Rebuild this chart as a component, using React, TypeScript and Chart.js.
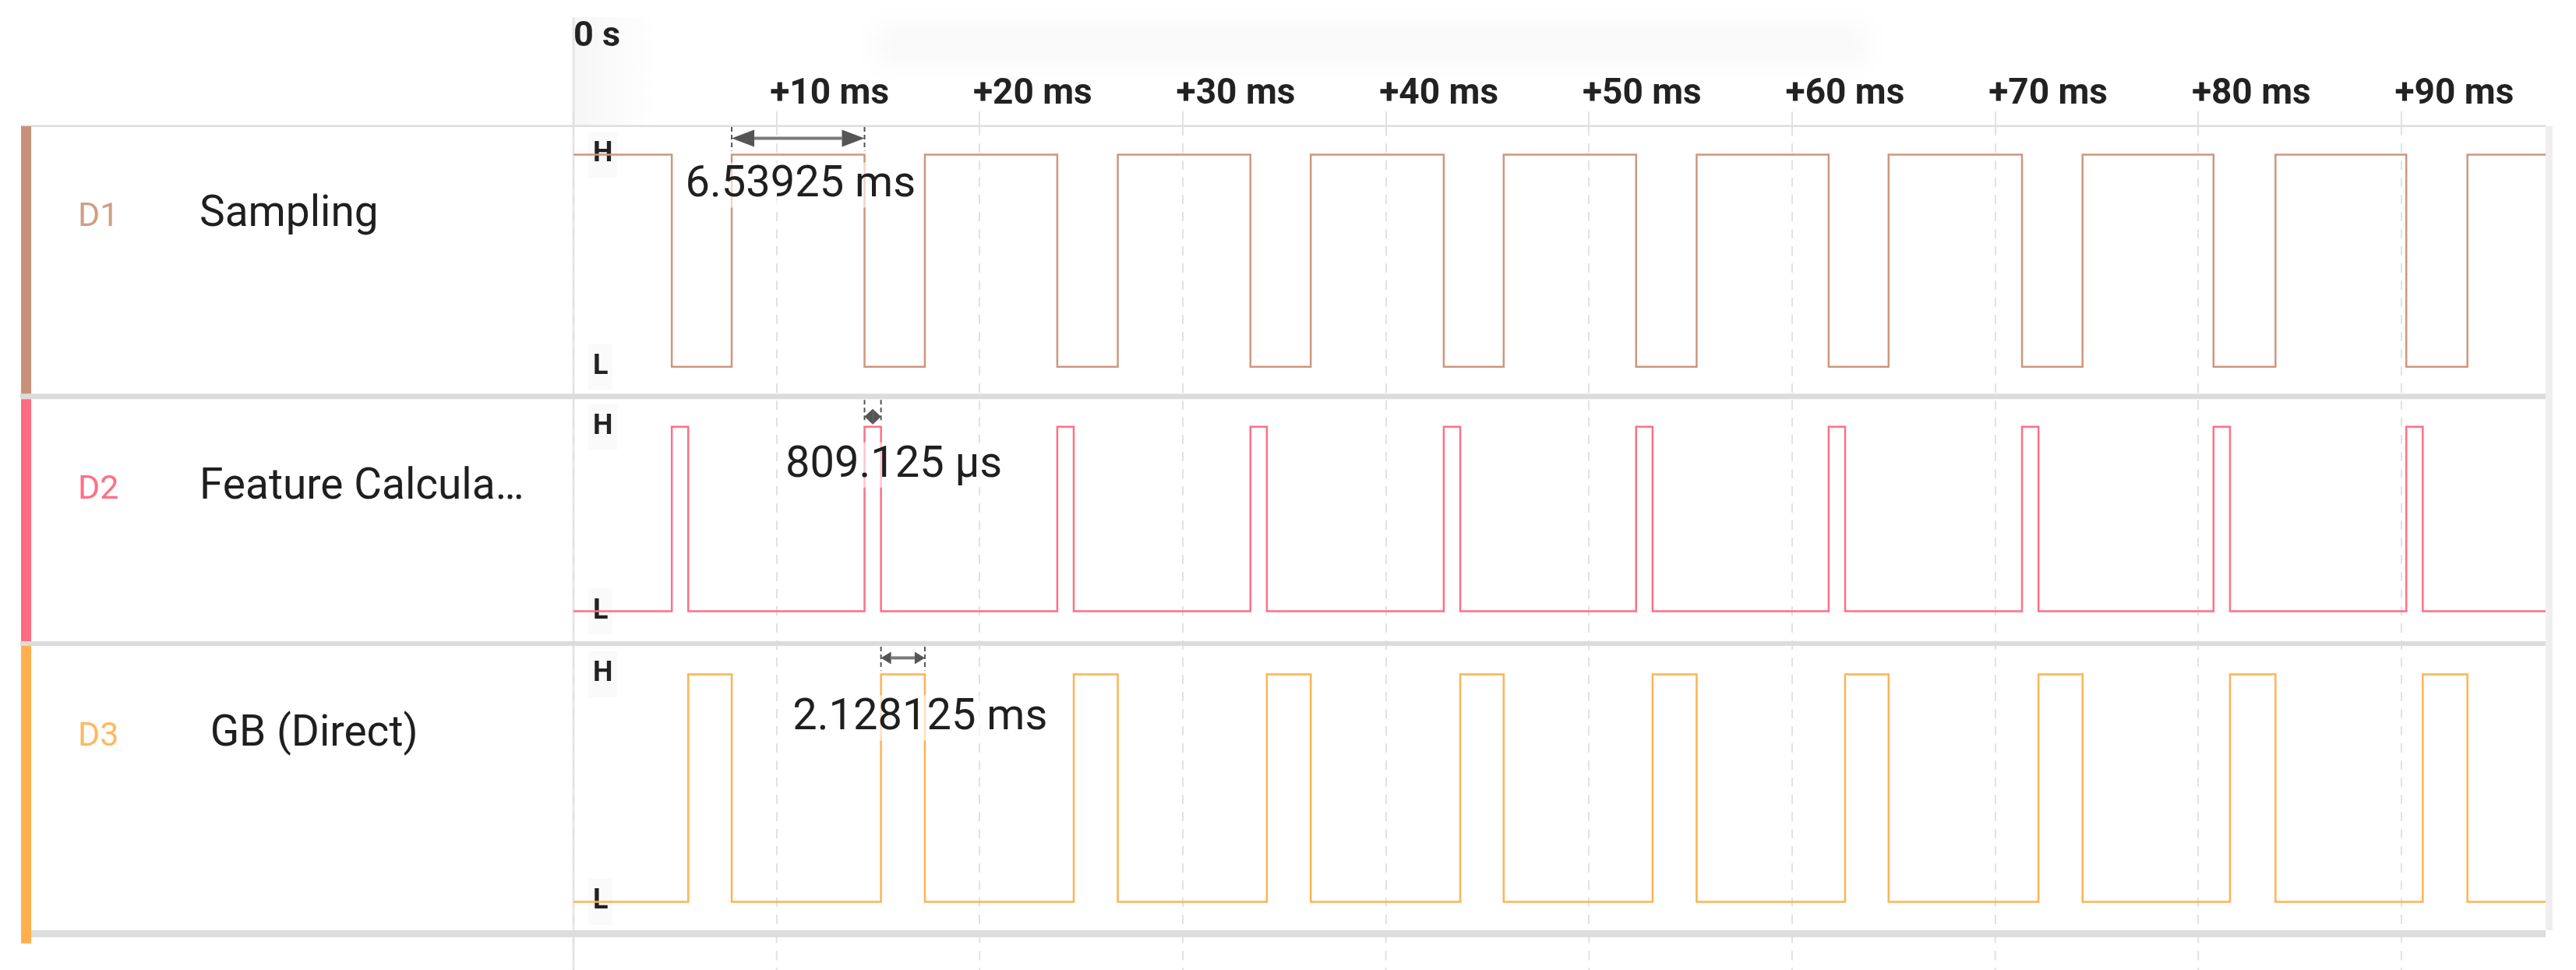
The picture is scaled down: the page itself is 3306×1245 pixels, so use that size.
import { useEffect, useRef } from 'react';
import { Chart, registerables } from 'chart.js';

Chart.register(...registerables);

// ---------- data ----------
const viewEnd = 97.1; // ms visible in the window
const xTickValues = [0, 10, 20, 30, 40, 50, 60, 70, 80, 90];
const xTickLabels = ['', '+10 ms', '+20 ms', '+30 ms', '+40 ms', '+50 ms', '+60 ms', '+70 ms', '+80 ms', '+90 ms'];
const levelValues = [0, 1];
const levelLabels = ['L', 'H'];

const channelIds = ['D1', 'D2', 'D3'];
const channelNames = ['Sampling', 'Feature Calcula…', ' GB (Direct)'];

const samplingTimes = [0, 4.84, 7.79, 14.33, 17.3, 23.82, 26.8, 33.33, 36.3, 42.85, 45.8, 52.32, 55.3, 61.8, 64.75, 71.32, 74.3, 80.75, 83.8, 90.24, 93.25, 97.1];
const samplingLevels = [1, 0, 1, 0, 1, 0, 1, 0, 1, 0, 1, 0, 1, 0, 1, 0, 1, 0, 1, 0, 1, 1];

const featureTimes = [0, 4.84, 5.65, 14.33, 15.14, 23.82, 24.63, 33.33, 34.14, 42.85, 43.66, 52.32, 53.13, 61.8, 62.61, 71.32, 72.13, 80.75, 81.56, 90.24, 91.05, 97.1];
const featureLevels = [0, 1, 0, 1, 0, 1, 0, 1, 0, 1, 0, 1, 0, 1, 0, 1, 0, 1, 0, 1, 0, 0];

const gbTimes = [0, 5.65, 7.79, 15.14, 17.3, 24.63, 26.8, 34.14, 36.3, 43.66, 45.8, 53.13, 55.3, 62.61, 64.75, 72.13, 74.3, 81.56, 83.8, 91.05, 93.25, 97.1];
const gbLevels = [0, 1, 0, 1, 0, 1, 0, 1, 0, 1, 0, 1, 0, 1, 0, 1, 0, 1, 0, 1, 0, 0];

const measureAxes = ['y1', 'y2', 'y3'];
const measureStarts = [7.79, 14.33, 15.14];
const measureEnds = [14.33, 15.14, 17.3];
const measureLabels = ['6.53925 ms', '809.125 µs', '2.128125 ms'];

// ---------- styles ----------
const FONT = 'Roboto';
const barColors = ['#C8917A', '#FF6B81', '#FFB04D'];
const lineColors = ['#CD977D', '#FF6F87', '#FFB352'];
const idColors = ['#CF9E84', '#FF6F85', '#FFB85E'];
const sepHalf = [3.5, 3, 4.5];
const measureStyles = [
  { dy: 21, head: 29, half: 11, dx: 3, base: 54 },
  { dy: 13, head: 10.5, half: 10, dx: 27, base: 64 },
  { dy: 21, head: 13, half: 8, dx: 22, base: 71 },
];

const toPoints = (t: number[], v: number[]) => t.map((x, i) => ({ x, y: v[i] }));

function rowTops(chart: any) {
  const r = ['y1', 'y2', 'y3'].map((id) => chart.scales[id]);
  return [r[0].top, r[1].top + sepHalf[0], r[2].top + sepHalf[1]];
}

const panelPlugin = {
  id: 'panel',
  beforeDraw(chart: any) {
    const { ctx, chartArea } = chart;
    const xs = chart.scales.x;
    ctx.save();
    ctx.fillStyle = '#ffffff';
    ctx.fillRect(0, 0, chart.width, chart.height);
    // faint header shadow
    ctx.filter = 'blur(16px)';
    ctx.fillStyle = 'rgba(0,0,0,0.022)';
    ctx.fillRect(1125, 30, 1270, 55);
    ctx.filter = 'none';
    const x0 = xs.getPixelForValue(0);
    const g = ctx.createLinearGradient(x0, 0, x0 + 110, 0);
    g.addColorStop(0, 'rgba(0,0,0,0.035)');
    g.addColorStop(1, 'rgba(0,0,0,0)');
    ctx.fillStyle = g;
    ctx.fillRect(x0, 22, 110, chartArea.top - 22);
    ctx.restore();
  },
  beforeDatasetsDraw(chart: any) {
    const { ctx, chartArea } = chart;
    const xs = chart.scales.x;
    const rows = ['y1', 'y2', 'y3'].map((id) => chart.scales[id]);
    const tops = rowTops(chart);
    const x0 = xs.getPixelForValue(0);
    ctx.save();
    // dashed grid continuation below last row
    ctx.strokeStyle = '#e2e2e2';
    ctx.lineWidth = 2;
    ctx.setLineDash([12, 10]);
    xTickValues.forEach((v) => {
      const x = xs.getPixelForValue(v);
      ctx.beginPath();
      ctx.moveTo(x, rows[2].bottom);
      ctx.lineTo(x, chart.height);
      ctx.stroke();
    });
    ctx.setLineDash([]);
    // left time-zero line
    ctx.fillStyle = 'rgba(225,225,225,0.8)';
    ctx.fillRect(x0 - 1.5, 22, 3, chart.height - 22);
    // header line
    ctx.fillStyle = '#dedede';
    ctx.fillRect(27, chartArea.top - 1.5, chartArea.right - 27, 2.5);
    // separators
    ctx.fillStyle = '#dcdcdc';
    ctx.fillRect(26, rows[0].bottom - sepHalf[0], chartArea.right - 26, sepHalf[0] * 2);
    ctx.fillRect(26, rows[1].bottom - sepHalf[1], chartArea.right - 26, sepHalf[1] * 2);
    ctx.fillRect(40, rows[2].bottom - sepHalf[2], chartArea.right - 40, sepHalf[2] * 2);
    // right border
    ctx.fillStyle = '#efefef';
    ctx.fillRect(chartArea.right, chartArea.top, 9, rows[2].bottom - sepHalf[2] - chartArea.top);
    // colour bars
    const bottoms = [rows[0].bottom - sepHalf[0], rows[1].bottom - sepHalf[1], rows[2].bottom + 12.5];
    for (let i = 0; i < 3; i++) {
      ctx.fillStyle = barColors[i];
      ctx.fillRect(27, tops[i], 13, bottoms[i] - tops[i]);
    }
    // channel labels
    ctx.textAlign = 'left';
    ctx.textBaseline = 'alphabetic';
    for (let i = 0; i < 3; i++) {
      const base = tops[i] + 128;
      ctx.fillStyle = idColors[i];
      ctx.font = `43px ${FONT}`;
      ctx.fillText(channelIds[i], 100, base);
      ctx.fillStyle = '#1f1f1f';
      ctx.font = `55px ${FONT}`;
      ctx.fillText(channelNames[i], 256, base);
    }
    ctx.restore();
  },
  afterDatasetsDraw(chart: any) {
    const { ctx } = chart;
    const xs = chart.scales.x;
    const tops = rowTops(chart);
    ctx.save();
    measureStarts.forEach((s, i) => {
      const ys = chart.scales[measureAxes[i]];
      const st = measureStyles[i];
      const x1 = xs.getPixelForValue(s);
      const x2 = xs.getPixelForValue(measureEnds[i]);
      const yH = ys.getPixelForValue(1);
      const ay = yH - st.dy;
      ctx.strokeStyle = '#555';
      ctx.lineWidth = 2;
      ctx.setLineDash([6, 4]);
      [x1, x2].forEach((x) => {
        ctx.beginPath();
        ctx.moveTo(x, tops[i] + 1);
        ctx.lineTo(x, yH - 5);
        ctx.stroke();
      });
      ctx.setLineDash([]);
      if (x2 - x1 > st.head * 2) {
        ctx.strokeStyle = '#7a7a7a';
        ctx.lineWidth = 4;
        ctx.beginPath();
        ctx.moveTo(x1 + st.head, ay);
        ctx.lineTo(x2 - st.head, ay);
        ctx.stroke();
      }
      ctx.fillStyle = '#555';
      ctx.beginPath();
      ctx.moveTo(x1, ay);
      ctx.lineTo(x1 + st.head, ay - st.half);
      ctx.lineTo(x1 + st.head, ay + st.half);
      ctx.closePath();
      ctx.fill();
      ctx.beginPath();
      ctx.moveTo(x2, ay);
      ctx.lineTo(x2 - st.head, ay - st.half);
      ctx.lineTo(x2 - st.head, ay + st.half);
      ctx.closePath();
      ctx.fill();
      ctx.font = `56px ${FONT}`;
      const label = measureLabels[i];
      const w = ctx.measureText(label).width;
      const cx = (x1 + x2) / 2 + st.dx;
      const by = yH + st.base;
      ctx.fillStyle = 'rgba(255,255,255,0.6)';
      ctx.fillRect(cx - w / 2 - 4, by - 44, w + 8, 58);
      ctx.fillStyle = '#1f1f1f';
      ctx.textAlign = 'center';
      ctx.textBaseline = 'alphabetic';
      ctx.fillText(label, cx, by);
    });
    ctx.restore();
  },
};

const yScale = (min: number, max: number, weight: number, stackWeight: number) => ({
  type: 'linear',
  position: 'left',
  stack: 'rows',
  stackWeight,
  weight,
  min,
  max,
  z: 1,
  afterFit: (s: any) => {
    s.width = 0;
  },
  afterBuildTicks: (s: any) => {
    s.ticks = levelValues.map((v) => ({ value: v }));
  },
  grid: { display: false, drawTicks: false },
  border: { display: false },
  ticks: {
    mirror: true,
    padding: 25,
    color: '#222',
    font: { family: FONT, size: 36, weight: 'bold' },
    callback: (v: number) => levelLabels[levelValues.indexOf(v)],
    showLabelBackdrop: true,
    backdropColor: '#fafafa',
    backdropPadding: { top: 8, bottom: 8, left: 6, right: 6 },
  },
});

export default function App() {
  const ref = useRef<HTMLCanvasElement | null>(null);
  useEffect(() => {
    document.body.style.margin = '0';
    const canvas = ref.current;
    if (!canvas) return;
    const chart = new Chart(canvas, {
      type: 'line',
      data: {
        datasets: [
          { data: toPoints(samplingTimes, samplingLevels), yAxisID: 'y1', borderColor: lineColors[0] },
          { data: toPoints(featureTimes, featureLevels), yAxisID: 'y2', borderColor: lineColors[1] },
          { data: toPoints(gbTimes, gbLevels), yAxisID: 'y3', borderColor: lineColors[2] },
        ].map((d) => ({ ...d, stepped: true, borderWidth: 2.5, pointRadius: 0, fill: false, tension: 0 })),
      },
      options: {
        animation: false,
        responsive: false,
        devicePixelRatio: 1,
        events: [],
        layout: { padding: { left: 736, right: 39, top: 0, bottom: 32.5 } },
        plugins: { legend: { display: false }, tooltip: { enabled: false } },
        scales: {
          x: {
            type: 'linear',
            position: 'top',
            min: 0,
            max: viewEnd,
            afterFit: (s: any) => {
              s.height = 162;
            },
            afterBuildTicks: (s: any) => {
              s.ticks = xTickValues.map((v) => ({ value: v }));
            },
            title: {
              display: true,
              text: '0 s',
              align: 'start',
              color: '#222',
              font: { family: FONT, size: 45, weight: 'bold', lineHeight: 1.2 },
              padding: { top: 21, bottom: 0 },
            },
            grid: { color: '#e2e2e2', lineWidth: 2, drawTicks: true, tickLength: 19, tickColor: '#e2e2e2', tickWidth: 2 },
            border: { display: false, dash: [12, 10] },
            ticks: {
              autoSkip: false,
              maxRotation: 0,
              align: 'center',
              labelOffset: 68,
              padding: -6,
              color: '#222',
              font: { family: FONT, size: 46, weight: 'bold', lineHeight: 1.2 },
              callback: (_v: number, i: number) => xTickLabels[i],
            },
          },
          y1: yScale(-0.1395, 1.134, 3, 351.5),
          y2: yScale(-0.175, 1.1646, 2, 321.5),
          y3: yScale(-0.1402, 1.1351, 1, 377.5),
        } as any,
      },
      plugins: [panelPlugin as any],
    } as any);
    return () => chart.destroy();
  }, []);
  return (
    <div style={{ position: 'absolute', left: 0, top: 0, width: 3306, height: 1245, background: '#fff' }}>
      <canvas ref={ref} width={3306} height={1245} style={{ width: 3306, height: 1245, display: 'block' }} />
    </div>
  );
}
